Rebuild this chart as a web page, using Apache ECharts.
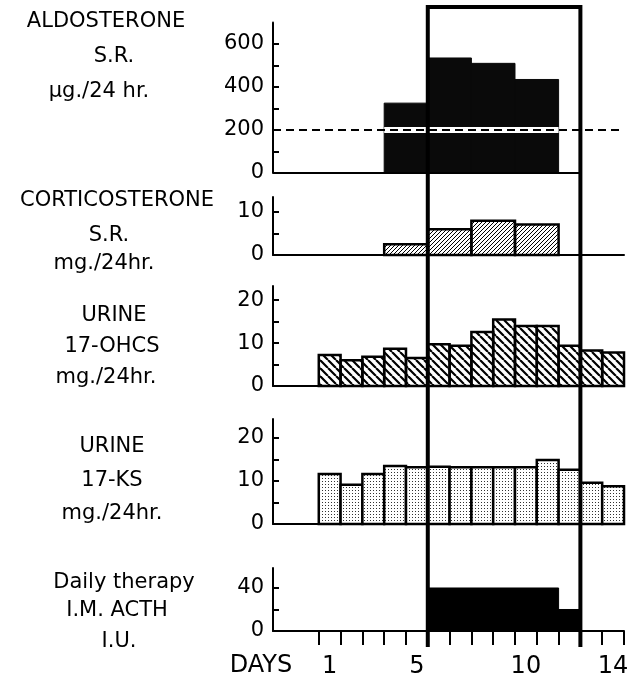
<!DOCTYPE html>
<html>
<head>
<meta charset="utf-8">
<script src="https://cdn.jsdelivr.net/npm/echarts@6/dist/echarts.min.js"></script>
<style>
html, body { margin: 0; padding: 0; background: #fff; }
#chart { width: 634px; height: 677px; }
</style>
</head>
<body>
<div id="chart"></div>
<script>
// day d is drawn over [d-1, d] on the x axis
const days = [1, 2, 3, 4, 5, 6, 7, 8, 9, 10, 11, 12, 13, 14];
const dayLabels = [1, 5, 10, 14];

// aldosterone / corticosterone were pooled over two days
const pooledDays = [[4, 5], [6, 7], [8, 9], [10, 11]];
const aldosterone = [325, 535, 510, 435];
const aldoNormal = 200;
const corticosterone = [2.5, 6, 8, 7.1];

// urine, one value per day
const ohcs = [7.2, 6, 6.8, 8.7, 6.5, 9.7, 9.4, 12.6, 15.5, 14, 14, 9.4, 8.3, 7.8];
const ks = [11.6, 9.1, 11.6, 13.5, 13.2, 13.3, 13.2, 13.2, 13.2, 13.2, 14.9, 12.6, 9.6, 8.8];

// ACTH doses
const acthDays = [[6, 11], [12, 12]];
const acth = [40, 20];

// box around the ACTH period
const boxDays = [6, 12];

const FONT = 'DejaVu Sans';

// 画纹理
function hatch(size, lw, dir) {
    const c = document.createElement('canvas');
    c.width = size; c.height = size;
    const ctx = c.getContext('2d');
    ctx.strokeStyle = '#000';
    ctx.lineWidth = lw;
    ctx.beginPath();
    for (let k = -1; k <= 1; k++) {
        if (dir > 0) {
            ctx.moveTo(k * size, size);
            ctx.lineTo(k * size + size, 0);
        } else {
            ctx.moveTo(k * size, 0);
            ctx.lineTo(k * size + size, size);
        }
    }
    ctx.stroke();
    return { image: c, repeat: 'repeat' };
}

function dots() {
    const c = document.createElement('canvas');
    c.width = 3; c.height = 3;
    const ctx = c.getContext('2d');
    ctx.fillStyle = '#fff';
    ctx.fillRect(0, 0, 3, 3);
    ctx.fillStyle = '#333';
    ctx.fillRect(1, 1, 1, 1);
    return { image: c, repeat: 'repeat' };
}

function barRender(fill, stroke, lw) {
    return function (params, api) {
        const a = api.coord([api.value(0) - 1, 0]);
        const b = api.coord([api.value(1), api.value(2)]);
        return {
            type: 'rect',
            shape: { x: a[0], y: b[1], width: b[0] - a[0], height: a[1] - b[1] },
            style: { fill: fill, stroke: stroke, lineWidth: lw }
        };
    };
}

function grid(top, height) {
    return { left: 273, right: 10, top: top, height: height, outerBoundsMode: 'none', containLabel: false };
}

function xAx(gi, extra) {
    return Object.assign({
        type: 'value', gridIndex: gi, min: -2.1, max: 14,
        axisLine: { onZero: false, lineStyle: { color: '#000', width: 2 } },
        axisTick: { show: false },
        axisLabel: { show: false },
        splitLine: { show: false }
    }, extra || {});
}

function yAx(gi, max, ticks, labels) {
    return {
        type: 'value', gridIndex: gi, min: 0, max: max,
        axisLine: { show: true, onZero: false, lineStyle: { color: '#000', width: 2 } },
        axisTick: { show: true, inside: true, length: 6, customValues: ticks, lineStyle: { color: '#000', width: 2 } },
        axisLabel: { customValues: labels, color: '#000', fontSize: 21, fontFamily: FONT, margin: 9 },
        splitLine: { show: false }
    };
}

function txt(text, x, y, size) {
    return {
        type: 'text', x: x, y: y,
        style: {
            text: text, fill: '#000', fontSize: size || 21, fontFamily: FONT,
            align: 'center', verticalAlign: 'middle'
        }
    };
}

const chart = echarts.init(document.getElementById('chart'));

const option = {
    animation: false,
    backgroundColor: '#fff',
    grid: [
        grid(22.5, 150.5),
        grid(197, 58),
        grid(286, 100),
        grid(419, 105),
        grid(568, 63),
        grid(7, 640)
    ],
    xAxis: [
        xAx(0, { axisLine: { show: false } }),
        xAx(1),
        xAx(2),
        xAx(3),
        xAx(4, {
            axisTick: {
                show: true, inside: false, length: 14,
                customValues: [0].concat(days),
                lineStyle: { color: '#000', width: 2 }
            },
            axisLabel: {
                show: true,
                customValues: dayLabels.map(d => d - 0.5),
                formatter: v => String(v + 0.5),
                color: '#000', fontSize: 24, fontFamily: FONT, margin: 24
            }
        }),
        xAx(5, { show: false })
    ],
    yAxis: [
        yAx(0, 700, [0, 100, 200, 300, 400, 500, 600], [0, 200, 400, 600]),
        yAx(1, 13.5, [0, 5, 10], [0, 10]),
        yAx(2, 23.3, [0, 5, 10, 15, 20], [0, 10, 20]),
        yAx(3, 24.4, [0, 5, 10, 15, 20], [0, 10, 20]),
        yAx(4, 58.6, [0, 20, 40], [0, 40]),
        { type: 'value', gridIndex: 5, min: 0, max: 1, show: false }
    ],
    series: [
        {
            type: 'custom', xAxisIndex: 0, yAxisIndex: 0, silent: true,
            renderItem: barRender('#0a0a0a', '#0a0a0a', 1),
            data: pooledDays.map((d, i) => [d[0], d[1], aldosterone[i]]),
            markLine: {
                silent: true, symbol: 'none', label: { show: false },
                data: [
                    [{ coord: [-2.1, 0], lineStyle: { color: '#000', width: 2, type: 'solid' } }, { coord: [boxDays[1], 0] }],
                    [{ coord: [pooledDays[0][0] - 1, aldoNormal], lineStyle: { color: '#fff', width: 6, type: 'solid' } },
                     { coord: [pooledDays[3][1], aldoNormal] }],
                    [{ coord: [-2.1, aldoNormal], lineStyle: { color: '#000', width: 2, type: [8, 5] } }, { coord: [14, aldoNormal] }]
                ]
            }
        },
        {
            type: 'custom', xAxisIndex: 1, yAxisIndex: 1, silent: true,
            renderItem: barRender(hatch(4, 1, 1), '#000', 2.5),
            data: pooledDays.map((d, i) => [d[0], d[1], corticosterone[i]])
        },
        {
            type: 'custom', xAxisIndex: 2, yAxisIndex: 2, silent: true,
            renderItem: barRender(hatch(8, 2.2, -1), '#000', 2.5),
            data: days.map((d, i) => [d, d, ohcs[i]])
        },
        {
            type: 'custom', xAxisIndex: 3, yAxisIndex: 3, silent: true,
            renderItem: barRender(dots(), '#000', 2.5),
            data: days.map((d, i) => [d, d, ks[i]])
        },
        {
            type: 'custom', xAxisIndex: 4, yAxisIndex: 4, silent: true,
            renderItem: barRender('#000', '#000', 1),
            data: acthDays.map((d, i) => [d[0], d[1], acth[i]])
        },
        {
            type: 'custom', xAxisIndex: 5, yAxisIndex: 5, silent: true, z: 10,
            renderItem: function (params, api) {
                const x0 = api.value(0) - 1, x1 = api.value(1);
                return {
                    type: 'polyline',
                    shape: { points: [api.coord([x0, 0]), api.coord([x0, 1]), api.coord([x1, 1]), api.coord([x1, 0])] },
                    style: { fill: null, stroke: '#000', lineWidth: 4 }
                };
            },
            data: [boxDays]
        }
    ],
    graphic: [
        txt('ALDOSTERONE', 106, 22),
        txt('S.R.', 114, 57),
        txt('µg./24 hr.', 99, 92),
        txt('CORTICOSTERONE', 117, 201),
        txt('S.R.', 109, 236),
        txt('mg./24hr.', 104, 264),
        txt('URINE', 114, 316),
        txt('17-OHCS', 112, 347),
        txt('mg./24hr.', 106, 378),
        txt('URINE', 112, 447),
        txt('17-KS', 112, 481),
        txt('mg./24hr.', 112, 514),
        txt('Daily therapy', 124, 583),
        txt('I.M. ACTH', 117, 611),
        txt('I.U.', 119, 642),
        txt('DAYS', 261, 666, 24)
    ]
};

chart.setOption(option);
</script>
</body>
</html>
